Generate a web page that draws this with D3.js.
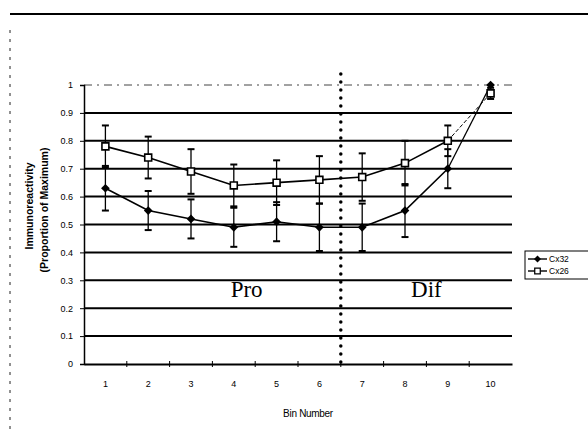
<!DOCTYPE html>
<html>
<head>
<meta charset="utf-8">
<script src="https://cdn.jsdelivr.net/npm/d3@7/dist/d3.min.js"></script>
<style>
  html, body { margin: 0; padding: 0; background: #fff; }
  svg { display: block; }
</style>
</head>
<body>
<svg id="chart" width="588" height="432"></svg>
<script>
// Bin categories and tick labels
const bins = [1, 2, 3, 4, 5, 6, 7, 8, 9, 10];
const binLabels = ["1", "2", "3", "4", "5", "6", "7", "8", "9", "10"];
const yTicks = [0, 0.1, 0.2, 0.3, 0.4, 0.5, 0.6, 0.7, 0.8, 0.9, 1];
const yTickLabels = ["0", "0.1", "0.2", "0.3", "0.4", "0.5", "0.6", "0.7", "0.8", "0.9", "1"];

// Immunoreactivity (proportion of maximum) per bin, with error bar half-widths
const cx32 = [0.63, 0.55, 0.52, 0.49, 0.51, 0.49, 0.49, 0.55, 0.70, 1.00];
const cx32Err = [0.08, 0.07, 0.07, 0.07, 0.07, 0.085, 0.085, 0.095, 0.07, 0];
const cx26 = [0.78, 0.74, 0.69, 0.64, 0.65, 0.66, 0.67, 0.72, 0.80, 0.97];
const cx26Err = [0.075, 0.075, 0.08, 0.075, 0.08, 0.085, 0.085, 0.08, 0.055, 0.02];

const seriesNames = ["Cx32", "Cx26"];
const boundary = 6.5; // proliferation / differentiation split
const zoneLabels = [{ text: "Pro", bin: 4.3 }, { text: "Dif", bin: 8.5 }];
const zoneLevel = 0.24;

const svg = d3.select("#chart");
const plotL = 84, plotR = 512, plotT = 85, plotB = 364;

const x = d3.scaleBand().domain(bins).range([plotL, plotR]);
const xc = b => x(b) + x.bandwidth() / 2;
const xLin = d3.scaleLinear().domain([0.5, 10.5]).range([plotL, plotR]);
const y = d3.scaleLinear().domain([0, 1]).range([plotB, plotT]);

// outer frame: heavy top rule and dashed left edge
svg.append("line").attr("x1", 10).attr("x2", 588).attr("y1", 14).attr("y2", 14)
  .attr("stroke", "#000").attr("stroke-width", 2);
svg.append("line").attr("x1", 10).attr("x2", 10).attr("y1", 30).attr("y2", 432)
  .attr("stroke", "#222").attr("stroke-width", 1).attr("stroke-dasharray", "3,6");

// gridlines
const grid = svg.append("g");
yTicks.filter(v => v > 0 && v < 1).forEach(v => {
  grid.append("line").attr("x1", plotL).attr("x2", plotR)
    .attr("y1", y(v)).attr("y2", y(v))
    .attr("stroke", "#000").attr("stroke-width", 2);
});
grid.append("line").attr("x1", plotL).attr("x2", plotR)
  .attr("y1", y(1)).attr("y2", y(1))
  .attr("stroke", "#444").attr("stroke-width", 1).attr("stroke-dasharray", "8,5,2,5");

// y axis
const yAxis = d3.axisLeft(y).tickValues(yTicks)
  .tickFormat((d, i) => yTickLabels[i]).tickSize(4).tickPadding(7);
const gy = svg.append("g").attr("transform", `translate(${plotL},0)`).call(yAxis);
gy.select(".domain").attr("stroke", "#000").attr("stroke-width", 1.5);
gy.selectAll("line").attr("stroke", "#000");
gy.selectAll("text").attr("font-family", "Arial, 'Liberation Sans', sans-serif")
  .attr("font-size", 9).attr("fill", "#000");

// x axis
const xAxis = d3.axisBottom(x).tickFormat((d, i) => binLabels[i]).tickSize(0).tickPadding(17);
const gx = svg.append("g").attr("transform", `translate(0,${plotB})`).call(xAxis);
gx.select(".domain").attr("stroke", "#000").attr("stroke-width", 2);
gx.selectAll("text").attr("font-family", "Arial, 'Liberation Sans', sans-serif")
  .attr("font-size", 9).attr("fill", "#000");
// category boundary tick marks
const bounds = d3.range(1.5, 10.5, 1);
svg.append("g").selectAll("line").data(bounds).join("line")
  .attr("x1", d => xLin(d)).attr("x2", d => xLin(d))
  .attr("y1", plotB - 3).attr("y2", plotB + 3)
  .attr("stroke", "#000").attr("stroke-width", 1);

// axis titles
svg.append("text").attr("transform", "translate(33,206) rotate(-90)")
  .attr("text-anchor", "middle").attr("font-family", "Arial, 'Liberation Sans', sans-serif")
  .attr("font-weight", "bold").attr("font-size", 10.5).text("Immunoreactivity");
svg.append("text").attr("transform", "translate(48,210) rotate(-90)")
  .attr("text-anchor", "middle").attr("font-family", "Arial, 'Liberation Sans', sans-serif")
  .attr("font-weight", "bold").attr("font-size", 10.5).text("(Proportion of Maximum)");
svg.append("text").attr("x", 308).attr("y", 417)
  .attr("text-anchor", "middle").attr("font-family", "Arial, 'Liberation Sans', sans-serif")
  .attr("font-size", 10).attr("letter-spacing", -0.3).text("Bin Number");

// zone labels
zoneLabels.forEach(z => {
  svg.append("text").attr("x", xLin(z.bin)).attr("y", y(zoneLevel))
    .attr("text-anchor", "middle").attr("font-family", "'Liberation Serif', 'Times New Roman', serif")
    .attr("font-size", 23).text(z.text);
});

// dotted boundary line
svg.append("line").attr("x1", xLin(boundary)).attr("x2", xLin(boundary))
  .attr("y1", plotT - 11).attr("y2", plotB)
  .attr("stroke", "#000").attr("stroke-width", 3.5)
  .attr("stroke-linecap", "round").attr("stroke-dasharray", "0,8");

// error bars
function errorBars(vals, errs) {
  const g = svg.append("g").attr("stroke", "#000").attr("stroke-width", 1.3);
  bins.forEach((b, i) => {
    if (!errs[i]) return;
    const cx = xc(b), hi = y(vals[i] + errs[i]), lo = y(vals[i] - errs[i]);
    g.append("line").attr("x1", cx).attr("x2", cx).attr("y1", hi).attr("y2", lo);
    g.append("line").attr("x1", cx - 3.5).attr("x2", cx + 3.5).attr("y1", hi).attr("y2", hi).attr("stroke-width", 2);
    g.append("line").attr("x1", cx - 3.5).attr("x2", cx + 3.5).attr("y1", lo).attr("y2", lo).attr("stroke-width", 2);
  });
}
errorBars(cx26, cx26Err);
errorBars(cx32, cx32Err);

// lines
const line = d3.line().x((d, i) => xc(bins[i])).y(d => y(d));
const tail = d3.line().x((d, i) => xc(bins[8 + i])).y(d => y(d));
svg.append("path").datum(cx32.slice(0, 9)).attr("d", line)
  .attr("fill", "none").attr("stroke", "#000").attr("stroke-width", 1.6);
svg.append("path").datum([cx32[8], cx32[9]]).attr("d", tail)
  .attr("fill", "none").attr("stroke", "#000").attr("stroke-width", 1.3);
svg.append("path").datum(cx26.slice(0, 9)).attr("d", line)
  .attr("fill", "none").attr("stroke", "#000").attr("stroke-width", 1.6);
svg.append("path").datum([cx26[8], cx26[9]]).attr("d", tail)
  .attr("fill", "none").attr("stroke", "#000").attr("stroke-width", 1)
  .attr("stroke-dasharray", "4,2");

// markers
const diamond = d3.symbol().type(d3.symbolDiamond2).size(48);
const square = d3.symbol().type(d3.symbolSquare).size(48);
svg.append("g").selectAll("path").data(cx32).join("path")
  .attr("d", diamond).attr("transform", (d, i) => `translate(${xc(bins[i])},${y(d)})`)
  .attr("fill", "#000");
svg.append("g").selectAll("path").data(cx26).join("path")
  .attr("d", square).attr("transform", (d, i) => `translate(${xc(bins[i])},${y(d)})`)
  .attr("fill", "#fff").attr("stroke", "#000").attr("stroke-width", 1.6);

// legend
const lg = svg.append("g").attr("transform", "translate(525,251)");
lg.append("rect").attr("x", 0).attr("y", 0).attr("width", 70).attr("height", 28)
  .attr("fill", "#fff").attr("stroke", "#000").attr("stroke-width", 1);
seriesNames.forEach((name, i) => {
  const yy = 8 + i * 12;
  lg.append("line").attr("x1", 3).attr("x2", 22).attr("y1", yy).attr("y2", yy)
    .attr("stroke", "#000").attr("stroke-width", 1.4);
  lg.append("path").attr("d", i === 0 ? diamond : square)
    .attr("transform", `translate(12.5,${yy}) scale(0.8)`)
    .attr("fill", i === 0 ? "#000" : "#fff").attr("stroke", "#000").attr("stroke-width", i === 0 ? 0 : 1.6);
  lg.append("text").attr("x", 24).attr("y", yy + 3)
    .attr("font-family", "Arial, 'Liberation Sans', sans-serif").attr("font-size", 8.5)
    .text(name);
});
</script>
</body>
</html>
